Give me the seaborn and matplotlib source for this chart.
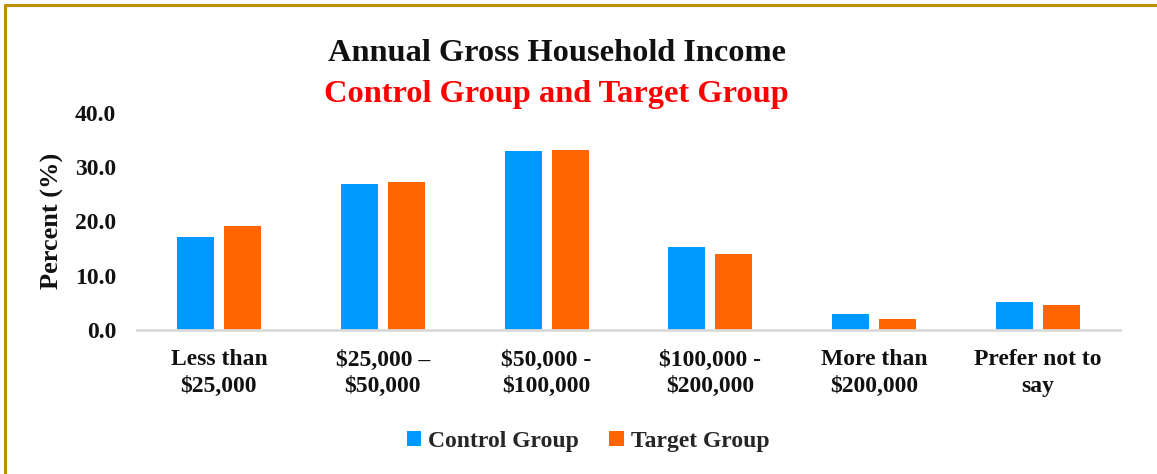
import matplotlib
matplotlib.use("Agg")
import matplotlib.pyplot as plt
from matplotlib.lines import Line2D
from matplotlib.patches import Patch
import seaborn as sns
import pandas as pd

categories = ["Less than\n$25,000", "$25,000 –\n$50,000", "$50,000 -\n$100,000",
              "$100,000 -\n$200,000", "More than\n$200,000", "Prefer not to\nsay"]
control_group = [17.1, 26.8, 32.9, 15.3, 2.9, 5.1]
target_group = [19.2, 27.2, 33.2, 14.0, 2.0, 4.6]
series_names = ["Control Group", "Target Group"]
y_ticks = [0, 10, 20, 30, 40]

colors = ["#0099FF", "#FF6600"]

df = pd.DataFrame({
    "category": categories * 2,
    "value": control_group + target_group,
    "group": [series_names[0]] * len(categories) + [series_names[1]] * len(categories),
})

sns.set_theme(style="white")
plt.rcParams["font.family"] = ["Liberation Serif", "DejaVu Serif"]
plt.rcParams["font.weight"] = "bold"

fig = plt.figure(figsize=(11.57, 4.74), dpi=100)
ax = fig.add_axes([137/1157, 1-330/474, (1120-137)/1157, (330-112.7)/474])

sns.barplot(data=df, x="category", y="value", hue="group", order=categories,
            hue_order=series_names, palette=colors, width=0.574, gap=0.21,
            saturation=1, ax=ax, legend=False, linewidth=0.8,
            edgecolor="none")

ax.set_ylim(0, 40)
ax.set_xlim(-0.5, len(categories) - 0.5)
ax.set_yticks(y_ticks)
ax.set_yticklabels([f"{v:.1f}" for v in y_ticks], fontsize=17, fontweight="bold", color="#111111")
ax.set_xticks(range(len(categories)))
ax.set_xticklabels(categories, fontsize=17, fontweight="bold", color="#111111", linespacing=1.35)
ax.tick_params(axis="y", length=0, pad=15)
ax.tick_params(axis="x", length=0, pad=14)
ax.set_xlabel("")
ax.set_ylabel("Percent (%)", fontsize=19, fontweight="bold", color="#111111", labelpad=8)

for s in ["top", "right", "left"]:
    ax.spines[s].set_visible(False)
ax.spines["bottom"].set_color("#D9D9D9")
ax.spines["bottom"].set_linewidth(2)
ax.grid(False)

fig.text(556.5/1157, 1-60.7/474, "Annual Gross Household Income", ha="center", va="baseline",
         fontsize=23.3, fontweight="bold", color="#111111")
fig.text(556.5/1157, 1-101.7/474, "Control Group and Target Group", ha="center", va="baseline",
         fontsize=23.3, fontweight="bold", color="#FF0000")

handles = [Patch(facecolor=c, edgecolor="none") for c in colors]
fig.legend(handles, series_names, loc="center", bbox_to_anchor=(588/1157, 1-441/474), ncol=2,
           frameon=False, prop={"family": "Liberation Serif", "weight": "bold", "size": 17},
           handlelength=0.6, handleheight=0.6, handletextpad=0.3, columnspacing=1.3)

gold = "#C09000"
fig.add_artist(Line2D([4.5/1157, 1], [1-4.5/474, 1-4.5/474], transform=fig.transFigure,
                      color=gold, linewidth=2.2))
fig.add_artist(Line2D([4.5/1157, 4.5/1157], [0, 1-4.5/474], transform=fig.transFigure,
                      color=gold, linewidth=2.2))

fig.savefig("out.png", dpi=100, facecolor="white")
